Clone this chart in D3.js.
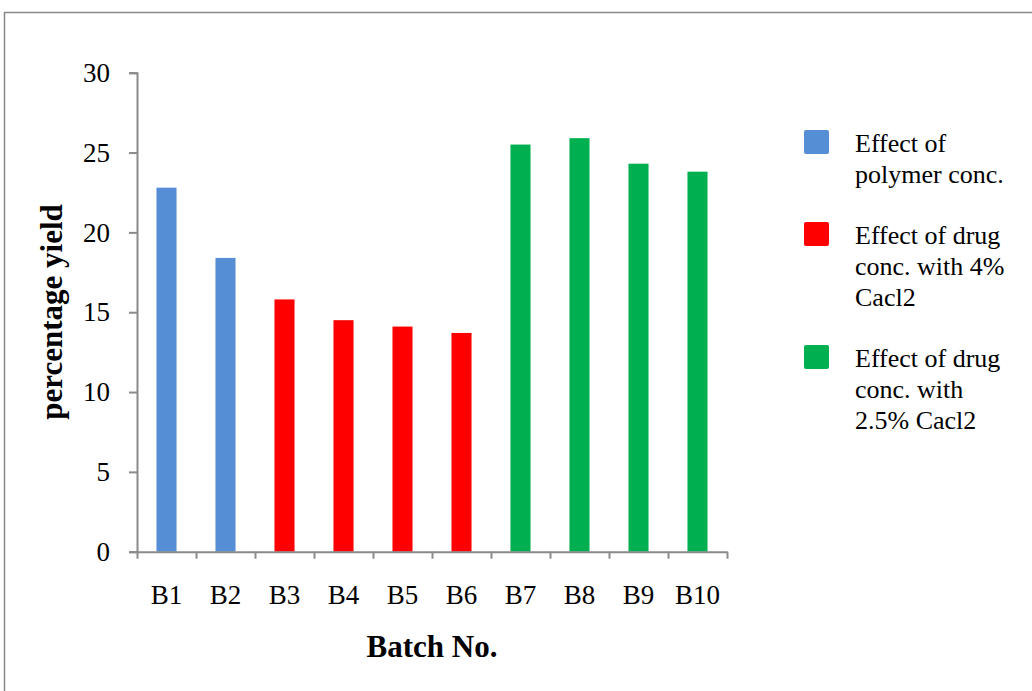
<!DOCTYPE html>
<html>
<head>
<meta charset="utf-8">
<script src="https://cdn.jsdelivr.net/npm/d3@7"></script>
<style>
  html, body { margin: 0; padding: 0; background: #ffffff; }
  svg { display: block; }
  text { font-family: "Liberation Serif", "Times New Roman", serif; fill: #000; }
</style>
</head>
<body>
<svg id="chart" width="1032" height="691"></svg>
<script>
// Batch labels and percentage yield per batch
const batches = ["B1", "B2", "B3", "B4", "B5", "B6", "B7", "B8", "B9", "B10"];
const yieldValues = [22.8, 18.4, 15.8, 14.5, 14.1, 13.7, 25.5, 25.9, 24.3, 23.8];
// Which study each batch belongs to (index into the groups below)
const batchGroup = [0, 0, 1, 1, 1, 1, 2, 2, 2, 2];

// Study groups shown in the legend
const groupLabels = [
  ["Effect of", "polymer conc."],
  ["Effect of drug", "conc. with 4%", "Cacl2"],
  ["Effect of drug", "conc. with", "2.5% Cacl2"]
];
const groupColors = ["#558ED5", "#FF0000", "#00B050"];

const yTicks = [0, 5, 10, 15, 20, 25, 30];

const svg = d3.select("#chart");

// outer chart-area frame (runs off the right and bottom edges)
svg.append("rect")
  .attr("x", 4.5).attr("y", 12.5)
  .attr("width", 1100).attr("height", 1000)
  .attr("fill", "none")
  .attr("stroke", "#888888")
  .attr("stroke-width", 1.5);

const plot = { left: 137, right: 727, top: 72.7, bottom: 551.7 };

const x = d3.scaleBand()
  .domain(batches)
  .range([plot.left, plot.right])
  .paddingInner(0.66)
  .paddingOuter(0.33);

// boundaries between categories, where the axis tick marks sit
const xEdge = d3.scaleLinear()
  .domain([0, batches.length])
  .range([plot.left, plot.right]);

const y = d3.scaleLinear()
  .domain([0, 30])
  .range([plot.bottom, plot.top]);

// bars
svg.append("g")
  .selectAll("rect")
  .data(batches)
  .join("rect")
  .attr("x", d => x(d))
  .attr("width", x.bandwidth())
  .attr("y", (d, i) => y(yieldValues[i]))
  .attr("height", (d, i) => y(0) - y(yieldValues[i]))
  .attr("fill", (d, i) => groupColors[batchGroup[i]]);

const axisColor = "#8a8a8a";

// y axis
const yAxis = svg.append("g")
  .attr("transform", `translate(${plot.left},0)`)
  .call(d3.axisLeft(y).tickValues(yTicks).tickSize(8).tickPadding(19).tickSizeOuter(8));
yAxis.selectAll("path, line").attr("stroke", axisColor).attr("stroke-width", 2);
yAxis.selectAll("text")
  .style("font-family", '"Liberation Serif", "Times New Roman", serif')
  .style("font-size", "27px")
  .attr("fill", "#000");

// x axis: ticks at category boundaries, labels at category centres
const xAxis = svg.append("g")
  .attr("transform", `translate(0,${plot.bottom})`)
  .call(d3.axisBottom(xEdge).ticks(batches.length).tickFormat("").tickSize(7).tickSizeOuter(0));
xAxis.selectAll("path, line").attr("stroke", axisColor).attr("stroke-width", 2);

svg.append("g")
  .selectAll("text")
  .data(batches)
  .join("text")
  .attr("x", d => x(d) + x.bandwidth() / 2)
  .attr("y", plot.bottom + 52)
  .attr("text-anchor", "middle")
  .style("font-size", "27px")
  .text(d => d);

// axis titles
svg.append("text")
  .attr("x", (plot.left + plot.right) / 2)
  .attr("y", 657)
  .attr("text-anchor", "middle")
  .style("font-size", "31px")
  .style("font-weight", "bold")
  .text("Batch No.");

svg.append("text")
  .attr("transform", "translate(62,312) rotate(-90)")
  .attr("text-anchor", "middle")
  .style("font-size", "31px")
  .style("font-weight", "bold")
  .text("percentage yield");

// legend
const lineH = 31;
const legend = svg.append("g");
let baseline = 152;
groupLabels.forEach((lines, gi) => {
  legend.append("rect")
    .attr("x", 804)
    .attr("y", baseline - 22)
    .attr("width", 25).attr("height", 24)
    .attr("rx", 2)
    .attr("fill", groupColors[gi]);
  const t = legend.append("text")
    .attr("x", 855)
    .attr("y", baseline)
    .style("font-size", "26px");
  lines.forEach((ln, li) => {
    t.append("tspan")
      .attr("x", 855)
      .attr("y", baseline + li * lineH)
      .text(ln);
  });
  baseline += lines.length * lineH + 30;
});
</script>
</body>
</html>
